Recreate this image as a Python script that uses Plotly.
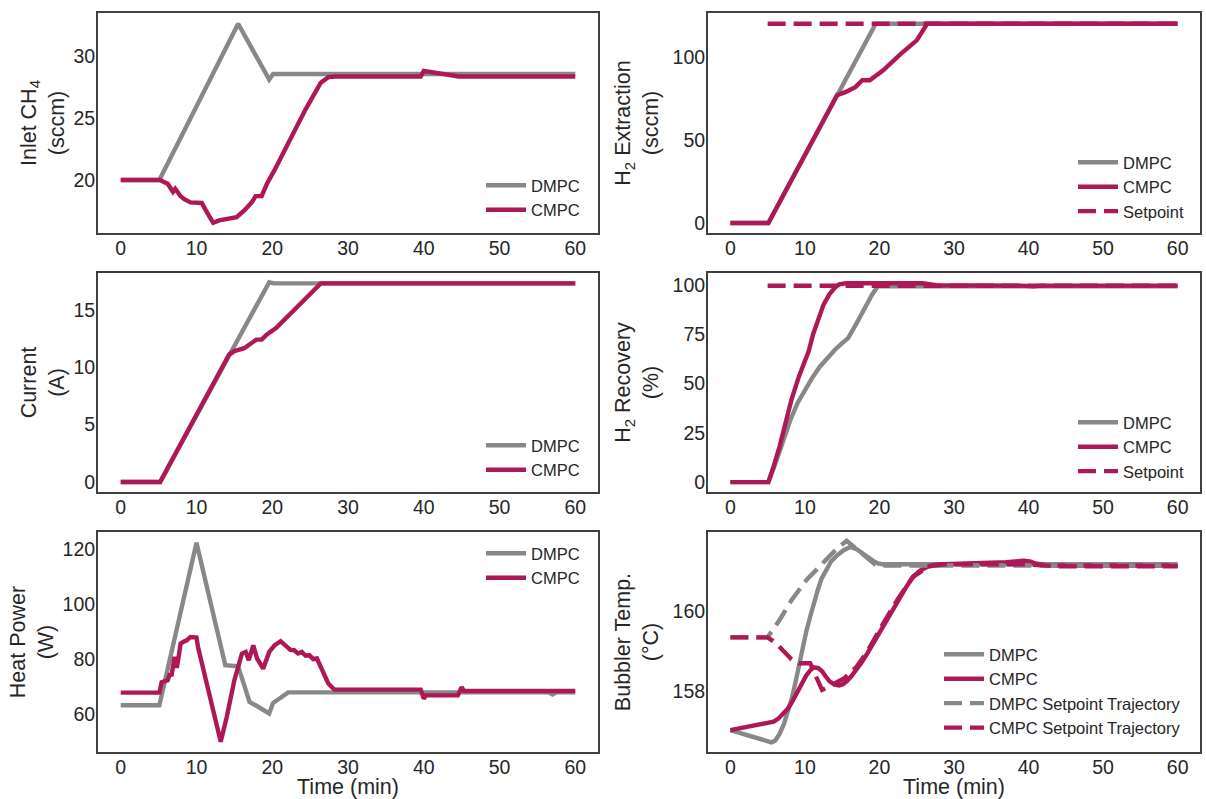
import plotly.graph_objects as go
from plotly.subplots import make_subplots

# ---------------- data ----------------
# Inlet CH4 (sccm)
ch4_dmpc_t = [0, 5.1, 15.5, 19.6, 20.1, 60]
ch4_dmpc_v = [20.0, 20.0, 32.6, 28.1, 28.55, 28.55]
ch4_cmpc_t = [0, 5.2, 5.7, 6.2, 6.9, 7.2, 7.9, 8.4, 9.2, 10.7, 11.2, 12.2, 13.0,
              15.3, 16.3, 17.3, 17.8, 18.6, 19.3, 20.3, 22.8, 24.4, 26.4, 27.4,
              28.4, 39.6, 40.0, 44.6, 60]
ch4_cmpc_v = [20.0, 20.0, 19.85, 19.7, 19.05, 19.3, 18.7, 18.45, 18.2, 18.15, 17.6,
              16.55, 16.75, 17.0, 17.55, 18.2, 18.7, 18.7, 19.7, 20.8, 23.8, 25.7,
              27.85, 28.3, 28.35, 28.35, 28.8, 28.35, 28.35]

# H2 extraction (sccm)
h2x_dmpc_t = [0, 5.1, 19.5, 60]
h2x_dmpc_v = [0, 0, 120, 120]
h2x_cmpc_t = [0, 5.1, 14.3, 15.5, 16.8, 17.7, 18.7, 20.5, 22.9, 25.0, 26.4, 60]
h2x_cmpc_v = [0, 0, 77, 79, 82, 86, 86, 92, 102, 110, 120, 120]
h2x_sp_t = [5.0, 60]
h2x_sp_v = [120, 120]

# Current (A)
cur_dmpc_t = [0, 5.2, 19.6, 20.2, 60]
cur_dmpc_v = [0, 0, 17.4, 17.3, 17.3]
cur_cmpc_t = [0, 5.2, 14.3, 15.0, 16.3, 17.5, 17.9, 18.6, 19.3, 20.5, 23.0, 26.4, 60]
cur_cmpc_v = [0, 0, 11.1, 11.4, 11.65, 12.15, 12.4, 12.4, 12.85, 13.4, 15.0, 17.3, 17.3]

# H2 recovery (%)
rec_dmpc_t = [0, 5.1, 6.0, 7.0, 8.0, 9.0, 10.0, 11.0, 12.0, 13.0, 14.0, 15.0, 15.8,
              17.0, 18.0, 19.0, 19.8, 60]
rec_dmpc_v = [0, 0, 9, 20, 31, 40, 47, 53, 58.5, 63, 67, 70.5, 73, 81, 88, 95, 99.3, 99.3]
rec_cmpc_t = [0, 5.1, 5.8, 6.6, 7.4, 8.2, 9.2, 10.5, 11.1, 11.7, 12.5, 13.3, 14.0,
              14.6, 15.5, 25.8, 26.5, 27.6, 39.0, 40.5, 42.0, 60]
rec_cmpc_v = [0, 0, 8, 18, 30, 41.8, 53.6, 66.3, 75, 82, 90, 95.3, 98.5,
              100.2, 100.8, 100.8, 100.6, 99.8, 99.6, 99.3, 99.6, 99.6]
rec_sp_t = [5.0, 60]
rec_sp_v = [99.5, 99.5]

# Heat power (W)
hp_dmpc_t = [0, 5.1, 10.0, 13.8, 15.5, 16.3, 17.0, 17.8, 19.6, 20.1, 21.1, 22.1,
             56.5, 57.0, 57.5, 60]
hp_dmpc_v = [63.4, 63.4, 122.5, 78.0, 77.6, 70.0, 64.6, 63.4, 60.4, 64.2, 66.4, 68.1,
             68.1, 67.3, 68.1, 68.1]
hp_cmpc_t = [0, 5.1, 5.4, 6.2, 6.5, 6.7, 7.1, 7.4, 7.7, 7.9, 8.3, 8.7, 9.2, 10.0,
             10.2, 11.5, 12.5, 13.2, 14.0, 15.0, 16.0, 16.5, 16.9, 17.5, 18.0, 18.8,
             19.6, 20.3, 21.1, 21.8, 22.4, 22.9, 23.4, 23.9, 24.4, 24.9, 25.4, 25.9,
             26.6, 27.4, 28.2, 39.6, 40.0, 40.3, 44.5, 45.0, 45.3, 60]
hp_cmpc_v = [68.0, 68.0, 71.8, 72.5, 75.0, 74.0, 81.0, 77.0, 82.0, 85.8, 86.5, 87.0,
             88.2, 88.0, 84.6, 70.0, 57.9, 50.1, 59.2, 72.5, 82.2, 82.8, 79.8, 85.2,
             80.4, 76.7, 82.8, 85.2, 86.7, 85.2, 83.5, 83.4, 82.2, 82.8, 81.4, 81.6,
             80.2, 80.4, 76.1, 71.3, 69.1, 69.1, 65.8, 67.0, 67.0, 70.0, 68.6, 68.6]

# Bubbler temperature (°C)
bt_dmpc_t = [0, 5.5, 6.0, 6.6, 7.2, 7.7, 8.2, 8.7, 9.2, 9.7, 10.2, 10.7, 11.2, 11.7,
             12.2, 12.8, 13.5, 14.3, 15.2, 16.1, 17.0, 17.9, 18.6, 19.2, 19.8, 20.4, 60]
bt_dmpc_v = [157.04, 156.74, 156.78, 156.95, 157.2, 157.47, 157.8, 158.2, 158.65,
             159.1, 159.5, 159.85, 160.2, 160.5, 160.78, 161.0, 161.22, 161.37, 161.5,
             161.58, 161.52, 161.4, 161.3, 161.23, 161.17, 161.15, 161.15]
bt_cmpc_t = [0, 5.0, 5.8, 6.4, 7.0, 7.7, 8.3, 8.9, 9.6, 10.2, 10.7, 11.2, 11.8, 12.3,
             12.8, 13.3, 14.0, 14.6, 15.1, 15.6, 16.2, 16.9, 17.6, 18.4, 19.4, 20.4,
             21.4, 22.5, 23.5, 24.5, 25.5, 26.6, 27.6, 28.6, 33.7, 37.0, 39.3, 40.2,
             40.9, 42.4, 43.9, 60]
bt_cmpc_v = [157.04, 157.2, 157.25, 157.32, 157.42, 157.57, 157.75, 157.97, 158.2,
             158.4, 158.52, 158.6, 158.58, 158.5, 158.37, 158.25, 158.17, 158.15,
             158.18, 158.25, 158.37, 158.53, 158.72, 158.95, 159.27, 159.6, 159.93,
             160.26, 160.56, 160.84, 161.0, 161.1, 161.14, 161.15, 161.17, 161.2,
             161.24, 161.22, 161.17, 161.13, 161.12, 161.12]
bt_dsp_t = [0, 5.0, 6.6, 8.2, 10.2, 12.8, 14.3, 15.6, 17.4, 19.4, 20.5, 60]
bt_dsp_v = [159.34, 159.34, 159.77, 160.26, 160.76, 161.25, 161.54, 161.73, 161.46,
            161.15, 161.12, 161.12]
bt_csp_t = [0, 5.0, 6.1, 7.2, 8.2, 9.2, 10.7, 11.5, 12.3, 13.0, 14.0, 15.3, 16.9,
            18.4, 20.4, 22.5, 24.5, 26.6, 28.6, 33.7, 39.3, 43.9, 60]
bt_csp_v = [159.34, 159.34, 159.2, 159.0, 158.8, 158.7, 158.7, 158.37, 158.04, 158.1,
            158.2, 158.33, 158.6, 159.0, 159.65, 160.3, 160.84, 161.1, 161.15, 161.15,
            161.15, 161.1, 161.1]

x_ticks = [0, 10, 20, 30, 40, 50, 60]

# ---------------- styling ----------------
GRAY = "#888888"
MAG = "#AE1858"
TXT = "#262626"
FONT = "Liberation Sans, Arial, sans-serif"
LW = 4.4
DASH = "18px,8px"

W, H = 1206, 799
ML, MR, MT, MB = 98, 6, 13, 47
PW, PH = W - ML - MR, H - MT - MB


def px_x(X):
    return (X - ML) / PW


def px_y(Y):
    return 1 - (Y - MT) / PH


fig = make_subplots(rows=3, cols=2)


def add(row, col, t, v, name, color, legend, dash=None):
    fig.add_trace(
        go.Scatter(x=t, y=v, mode="lines", name=name,
                   line=dict(color=color, width=LW, dash=dash),
                   legend=legend, showlegend=True),
        row=row, col=col)


add(1, 1, ch4_dmpc_t, ch4_dmpc_v, "DMPC", GRAY, "legend")
add(1, 1, ch4_cmpc_t, ch4_cmpc_v, "CMPC", MAG, "legend")

add(1, 2, h2x_dmpc_t, h2x_dmpc_v, "DMPC", GRAY, "legend2")
add(1, 2, h2x_cmpc_t, h2x_cmpc_v, "CMPC", MAG, "legend2")
add(1, 2, h2x_sp_t, h2x_sp_v, "Setpoint", MAG, "legend2", dash=DASH)

add(2, 1, cur_dmpc_t, cur_dmpc_v, "DMPC", GRAY, "legend3")
add(2, 1, cur_cmpc_t, cur_cmpc_v, "CMPC", MAG, "legend3")

add(2, 2, rec_dmpc_t, rec_dmpc_v, "DMPC", GRAY, "legend4")
add(2, 2, rec_cmpc_t, rec_cmpc_v, "CMPC", MAG, "legend4")
add(2, 2, rec_sp_t, rec_sp_v, "Setpoint", MAG, "legend4", dash=DASH)

add(3, 1, hp_dmpc_t, hp_dmpc_v, "DMPC", GRAY, "legend5")
add(3, 1, hp_cmpc_t, hp_cmpc_v, "CMPC", MAG, "legend5")

add(3, 2, bt_dmpc_t, bt_dmpc_v, "DMPC", GRAY, "legend6")
add(3, 2, bt_cmpc_t, bt_cmpc_v, "CMPC", MAG, "legend6")
add(3, 2, bt_dsp_t, bt_dsp_v, "DMPC Setpoint Trajectory", GRAY, "legend6", dash=DASH)
add(3, 2, bt_csp_t, bt_csp_v, "CMPC Setpoint Trajectory", MAG, "legend6", dash=DASH)

col_dom = [[px_x(98), px_x(598)], [px_x(708), px_x(1200)]]
row_dom = [[px_y(233), px_y(13)], [px_y(492), px_y(273)], [px_y(752), px_y(532)]]

y_cfg = {
    (1, 1): ("Inlet CH<sub>4</sub><br>(sccm)", [15.73, 33.47], [20, 25, 30]),
    (1, 2): ("H<sub>2</sub> Extraction<br>(sccm)", [-6, 126.5], [0, 50, 100]),
    (2, 1): ("Current<br>(A)", [-0.87, 18.2], [0, 5, 10, 15]),
    (2, 2): ("H<sub>2</sub> Recovery<br>(%)", [-5, 106], [0, 25, 50, 75, 100]),
    (3, 1): ("Heat Power<br>(W)", [46.4, 126.4], [60, 80, 100, 120]),
    (3, 2): ("Bubbler Temp.<br>(°C)", [156.5, 161.95], [158, 160]),
}

axis_common = dict(showgrid=False, zeroline=False, showline=True, mirror=True,
                   linecolor="#404040", linewidth=2, ticks="", automargin=False,
                   ticklabelstandoff=-3,
                   tickfont=dict(size=19.5, color=TXT, family=FONT))

for (r, c), (title, yr, yt) in y_cfg.items():
    idx = (r - 1) * 2 + c
    xa = "xaxis" if idx == 1 else f"xaxis{idx}"
    ya = "yaxis" if idx == 1 else f"yaxis{idx}"
    fig.layout[xa].update(domain=col_dom[c - 1], range=[-3, 63], tickvals=x_ticks,
                          **axis_common)
    fig.layout[ya].update(domain=row_dom[r - 1], range=yr, tickvals=yt,
                          title=dict(text=title, standoff=3 if c == 1 else 8,
                                     font=dict(size=21.5, color=TXT, family=FONT)),
                          **axis_common)
    if r == 3:
        fig.layout[xa].update(title=dict(text="Time (min)", standoff=8,
                                         font=dict(size=21.5, color=TXT, family=FONT)))

leg_common = dict(bgcolor="rgba(0,0,0,0)", borderwidth=0, xanchor="left",
                  yanchor="top", font=dict(size=16.5, color=TXT, family=FONT),
                  itemwidth=40, tracegroupgap=0)


def leg(x_line, y_first):
    d = dict(leg_common)
    d.update(x=px_x(x_line - 3), y=px_y(y_first - 17))
    return d


fig.update_layout(
    width=W, height=H,
    margin=dict(l=ML, r=MR, t=MT, b=MB, autoexpand=False),
    paper_bgcolor="white", plot_bgcolor="white",
    font=dict(family=FONT, color=TXT),
    legend=leg(484, 185),
    legend2=leg(1076, 162),
    legend3=leg(484, 445),
    legend4=leg(1076, 422),
    legend5=leg(484, 553),
    legend6=leg(942, 654),
)

fig.write_html("out.html", config={"displayModeBar": False},
               post_script="document.body.style.margin='0';"
                           "document.body.style.overflow='hidden';")
